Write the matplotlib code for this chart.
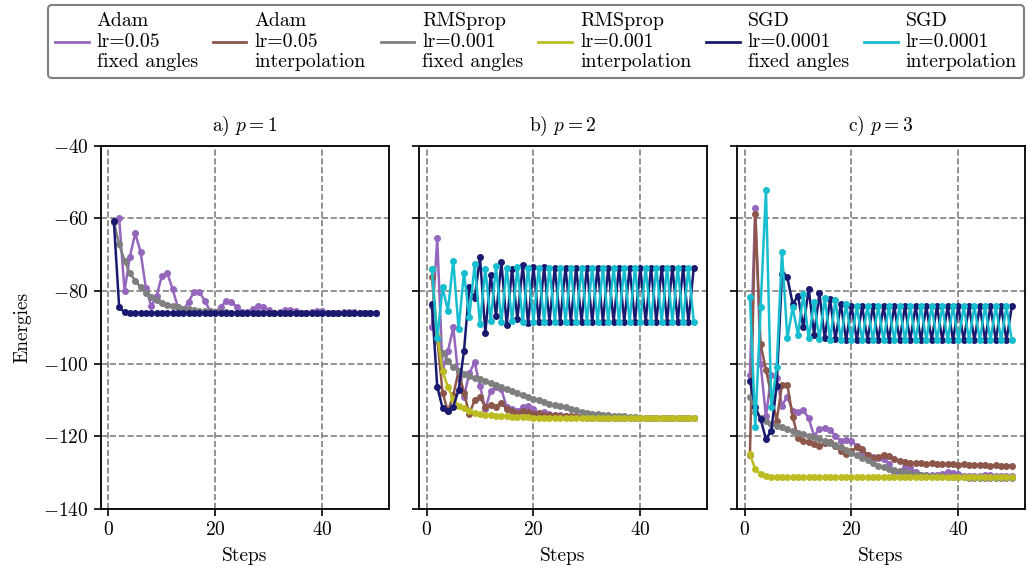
import matplotlib
matplotlib.use("Agg")
import matplotlib.pyplot as plt
from matplotlib.lines import Line2D

plt.rcParams['font.family'] = 'serif'
plt.rcParams['font.serif'] = ['cmr10']
plt.rcParams['mathtext.fontset'] = 'cm'
plt.rcParams['axes.formatter.use_mathtext'] = True
plt.rcParams['font.size'] = 14

steps = list(range(1, 51))

# p = 1 (only fixed-angle runs are drawn)
adam_fixed_p1 = [-61.0, -60.0, -80.0, -70.5, -64.1, -69.2, -79.2, -84.2, -81.3, -75.7,
                 -75.0, -79.5, -84.5, -85.4, -82.9, -80.2, -80.2, -82.6, -85.4, -85.8,
                 -84.3, -82.8, -82.9, -84.5, -85.8, -85.7, -84.9, -84.2, -84.5, -85.3,
                 -86.0, -85.8, -85.3, -85.1, -85.4, -86.0, -86.0, -85.8, -85.4, -85.6,
                 -85.9, -86.0, -85.9, -85.8, -85.7, -85.8, -86.0, -86.0, -85.9, -86.0]
rms_fixed_p1 = [-61.0, -67.1, -71.6, -75.1, -77.1, -79.0, -80.5, -81.5, -82.4, -83.2,
                -83.7, -84.1, -84.5, -84.8, -85.0, -85.2, -85.4, -85.5, -85.6, -85.7,
                -85.8, -85.8, -85.9, -85.9, -85.9, -86.0, -86.0, -86.0, -86.0, -86.0,
                -86.0, -86.0, -86.0, -86.0, -86.0, -86.0, -86.0, -86.0, -86.0, -86.0,
                -86.0, -86.0, -86.0, -86.0, -86.0, -86.0, -86.0, -86.0, -86.0, -86.0]
sgd_fixed_p1 = [-60.7, -84.5, -85.8, -85.9, -86.0, -86.0, -86.0, -86.0, -86.0, -86.0,
                -86.0, -86.0, -86.0, -86.0, -86.0, -86.0, -86.0, -86.0, -86.0, -86.0,
                -86.0, -86.0, -86.0, -86.0, -86.0, -86.0, -86.0, -86.0, -86.0, -86.0,
                -86.0, -86.0, -86.0, -86.0, -86.0, -86.0, -86.0, -86.0, -86.0, -86.0,
                -86.0, -86.0, -86.0, -86.0, -86.0, -86.0, -86.0, -86.0, -86.0, -86.0]

# p = 2
adam_fixed_p2 = [-90.0, -65.5, -101.9, -96.6, -90.0, -104.0, -109.0, -102.6, -99.6, -106.0,
                 -112.5, -107.4, -106.3, -107.0, -112.0, -112.5, -112.9, -112.0, -111.6, -112.5,
                 -113.8, -113.2, -113.8, -114.3, -114.0, -114.3, -114.6, -114.5, -114.7, -114.8,
                 -114.7, -114.8, -114.9, -114.8, -114.9, -115.0, -114.9, -115.0, -115.0, -114.9,
                 -115.0, -115.0, -115.0, -115.0, -115.0, -115.0, -115.0, -115.0, -115.0, -115.0]
adam_interp_p2 = [-76.0, -93.0, -107.9, -113.1, -108.7, -101.9, -108.0, -113.8, -110.0, -109.0,
                  -112.0, -111.3, -111.8, -110.7, -112.5, -112.9, -113.5, -113.0, -113.2, -113.8,
                  -113.6, -114.0, -114.2, -114.0, -114.3, -114.5, -114.4, -114.6, -114.7, -114.6,
                  -114.8, -114.8, -114.9, -114.9, -114.9, -115.0, -115.0, -115.0, -115.0, -115.0,
                  -115.0, -115.0, -115.0, -115.0, -115.0, -115.0, -115.0, -115.0, -115.0, -115.0]
rms_fixed_p2 = [-84.0, -93.6, -96.9, -99.2, -101.0, -101.9, -102.7, -103.3, -103.8, -104.2,
                -104.8, -105.4, -105.9, -106.4, -107.0, -107.5, -108.1, -108.7, -109.2, -109.6,
                -110.1, -110.5, -111.0, -111.4, -111.7, -112.0, -112.4, -112.8, -113.2, -113.5,
                -113.7, -113.9, -114.1, -114.2, -114.3, -114.4, -114.5, -114.6, -114.7, -114.8,
                -114.8, -114.9, -114.9, -114.9, -115.0, -115.0, -115.0, -115.0, -115.0, -115.0]
rms_interp_p2 = [-74.0, -92.3, -102.0, -106.5, -109.7, -111.5, -112.3, -113.0, -113.5, -113.8,
                 -114.0, -114.2, -114.3, -114.4, -114.5, -114.6, -114.6, -114.7, -114.7, -114.8,
                 -114.8, -114.8, -114.8, -114.9, -114.9, -114.9, -114.9, -114.9, -115.0, -115.0,
                 -115.0, -115.0, -115.0, -115.0, -115.0, -115.0, -115.0, -115.0, -115.0, -115.0,
                 -115.0, -115.0, -115.0, -115.0, -115.0, -115.0, -115.0, -115.0, -115.0, -115.0]
sgd_fixed_p2 = [-83.6, -106.3, -112.2, -112.9, -111.8, -107.2, -96.6, -79.0, -82.0, -70.7,
                -91.4, -75.6, -86.8, -72.1, -89.3, -73.9, -87.7, -72.8, -88.9, -73.3,
                -88.4, -73.4, -88.4, -73.5, -88.4, -73.5, -88.4, -73.5, -88.4, -73.5,
                -88.4, -73.5, -88.4, -73.5, -88.4, -73.5, -88.4, -73.5, -88.4, -73.5,
                -88.4, -73.5, -88.4, -73.5, -88.4, -73.5, -88.4, -73.5, -88.4, -73.5]
sgd_interp_p2 = [-73.9, -93.0, -79.0, -85.4, -71.6, -90.5, -74.9, -87.2, -72.6, -89.1,
                 -73.8, -88.2, -73.2, -88.6, -73.5, -88.3, -73.4, -88.4, -73.5, -88.4,
                 -73.5, -88.4, -73.5, -88.4, -73.5, -88.4, -73.5, -88.4, -73.5, -88.4,
                 -73.5, -88.4, -73.5, -88.4, -73.5, -88.4, -73.5, -88.4, -73.5, -88.4,
                 -73.5, -88.4, -73.5, -88.4, -73.5, -88.4, -73.5, -88.4, -73.5, -88.4]

# p = 3
adam_fixed_p3 = [-103.0, -57.0, -100.0, -114.5, -103.0, -104.0, -111.5, -109.0, -113.0, -113.4,
                 -112.8, -115.0, -119.8, -118.0, -117.6, -118.2, -119.8, -121.2, -121.0, -121.3,
                 -122.6, -124.9, -125.2, -125.7, -125.8, -126.3, -127.5, -129.9, -129.9, -128.5,
                 -128.5, -129.9, -130.5, -130.8, -130.7, -130.5, -130.2, -129.9, -130.0, -130.4,
                 -130.8, -131.0, -131.0, -130.8, -130.5, -130.6, -130.9, -131.0, -131.0, -131.0]
adam_interp_p3 = [-125.0, -58.8, -94.6, -101.6, -108.6, -115.7, -105.8, -105.8, -114.6, -120.3,
                  -121.2, -121.6, -122.0, -122.5, -121.9, -121.6, -122.5, -124.0, -124.7, -124.0,
                  -123.0, -123.5, -125.1, -125.8, -125.6, -125.1, -125.4, -126.2, -126.7, -127.1,
                  -127.2, -127.3, -127.4, -127.5, -127.4, -127.6, -127.5, -127.7, -127.6, -127.8,
                  -127.7, -127.8, -127.9, -127.8, -127.9, -128.0, -127.9, -128.0, -128.0, -128.0]
rms_fixed_p3 = [-109.0, -113.4, -114.8, -115.7, -116.6, -117.0, -117.5, -118.0, -118.5, -119.0,
                -119.4, -119.8, -120.2, -120.7, -121.2, -121.7, -122.3, -123.0, -123.8, -124.5,
                -125.2, -125.9, -126.5, -127.3, -128.1, -128.5, -128.9, -129.3, -129.6, -129.9,
                -130.1, -130.3, -130.5, -130.7, -130.8, -130.9, -131.0, -131.1, -131.1, -131.2,
                -131.2, -131.3, -131.3, -131.3, -131.3, -131.4, -131.4, -131.4, -131.4, -131.4]
rms_interp_p3 = [-124.9, -129.0, -130.4, -130.9, -131.1, -131.2, -131.2, -131.2, -131.2, -131.2,
                 -131.2, -131.2, -131.2, -131.2, -131.2, -131.2, -131.2, -131.2, -131.2, -131.2,
                 -131.2, -131.2, -131.2, -131.2, -131.2, -131.2, -131.2, -131.2, -131.2, -131.2,
                 -131.2, -131.2, -131.2, -131.2, -131.2, -131.2, -131.2, -131.2, -131.2, -131.2,
                 -131.2, -131.2, -131.2, -131.2, -131.2, -131.2, -131.2, -131.2, -131.2, -131.2]
sgd_fixed_p3 = [-104.7, -112.0, -115.2, -120.7, -118.4, -106.0, -75.3, -76.2, -83.5, -81.3,
                -90.0, -79.3, -92.0, -80.6, -93.0, -82.2, -93.3, -83.5, -93.5, -84.0,
                -93.5, -84.2, -93.5, -84.2, -93.5, -84.2, -93.5, -84.2, -93.5, -84.2,
                -93.5, -84.2, -93.5, -84.2, -93.5, -84.2, -93.5, -84.2, -93.5, -84.2,
                -93.5, -84.2, -93.5, -84.2, -93.5, -84.2, -93.5, -84.2, -93.5, -84.2]
sgd_interp_p3 = [-81.5, -117.5, -84.5, -52.2, -112.0, -101.0, -69.1, -93.0, -84.5, -92.0,
                 -80.8, -93.0, -83.1, -93.3, -81.8, -93.5, -82.5, -93.5, -83.5, -93.5,
                 -84.2, -93.5, -84.2, -93.5, -84.2, -93.5, -84.2, -93.5, -84.2, -93.5,
                 -84.2, -93.5, -84.2, -93.5, -84.2, -93.5, -84.2, -93.5, -84.2, -93.5,
                 -84.2, -93.5, -84.2, -93.5, -84.2, -93.5, -84.2, -93.5, -84.2, -93.5]

labels = ['Adam\nlr=0.05\nfixed angles', 'Adam\nlr=0.05\ninterpolation',
          'RMSprop\nlr=0.001\nfixed angles', 'RMSprop\nlr=0.001\ninterpolation',
          'SGD\nlr=0.0001\nfixed angles', 'SGD\nlr=0.0001\ninterpolation']
colors = ['tab:purple', 'tab:brown', 'tab:gray', 'tab:olive', 'midnightblue', 'tab:cyan']
titles = ['a) $p=1$', 'b) $p=2$', 'c) $p=3$']

panels = [
    [adam_fixed_p1, None, rms_fixed_p1, None, sgd_fixed_p1, None],
    [adam_fixed_p2, adam_interp_p2, rms_fixed_p2, rms_interp_p2, sgd_fixed_p2, sgd_interp_p2],
    [adam_fixed_p3, adam_interp_p3, rms_fixed_p3, rms_interp_p3, sgd_fixed_p3, sgd_interp_p3],
]

fig, axes = plt.subplots(1, 3, figsize=(10.28, 5.74), dpi=100, sharey=True)
fig.subplots_adjust(left=0.098, right=0.997, bottom=0.113, top=0.746, wspace=0.104)

for ax, series, title in zip(axes, panels, titles):
    for k, vals in enumerate(series):
        if vals is None:
            continue
        ax.plot(steps, vals, '-o', color=colors[k], lw=1.8, ms=4)
    ax.set_title(title, fontsize=14, pad=11)
    ax.set_xlabel('Steps', labelpad=6)
    ax.grid(True, ls='--', color='gray', lw=1.2)
    ax.set_xticks([0, 20, 40])
    ax.tick_params(width=1.2, length=5, labelsize=14)
    for s in ax.spines.values():
        s.set_linewidth(1.3)

axes[0].set_ylim(-140, -40)
axes[0].set_yticks([-140, -120, -100, -80, -60, -40])
axes[0].set_ylabel('Energies', labelpad=9)

handles = [Line2D([], [], color=c, lw=2) for c in colors]
leg = fig.legend(handles, labels, loc='upper left', bbox_to_anchor=(48 / 1028, 1 - 5 / 574), ncol=6,
                 handlelength=1.7, columnspacing=0.75, handletextpad=0.4, fontsize=14.3,
                 labelspacing=0.2, frameon=True, fancybox=True, edgecolor='gray', framealpha=1,
                 borderpad=0.35, borderaxespad=0)
leg.get_frame().set_linewidth(1.5)

fig.savefig('out.png', dpi=100)
